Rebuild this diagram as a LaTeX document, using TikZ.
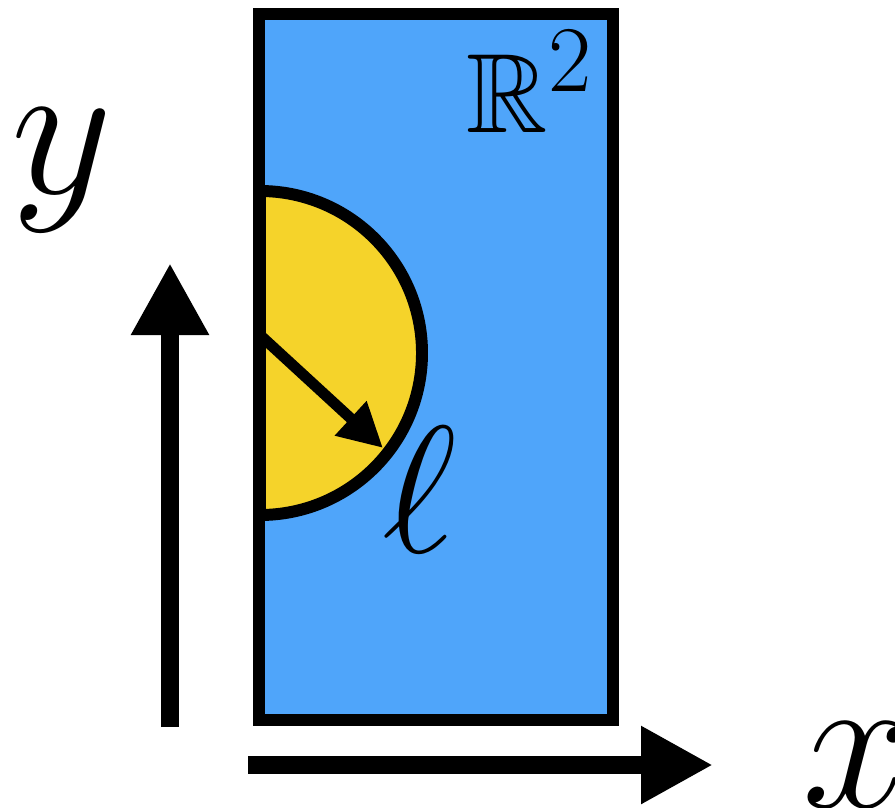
\documentclass[tikz,border=0pt]{standalone}
\usepackage{amsmath,amssymb}
\usetikzlibrary{arrows.meta}
\definecolor{planeblue}{RGB}{79,165,250}
\definecolor{discyellow}{RGB}{245,211,42}

\begin{document}
\begin{tikzpicture}[axis/.style={line width=5.1pt, -{Triangle[length=7.2mm, width=7.3mm]}}, biglabel/.style={font=\Huge, scale=2.25}]
\useasboundingbox (0,0) rectangle (8.95,8.07);
% half-plane and half-disc
\fill[planeblue] (2.59,0.87) rectangle (6.13,7.93);
\filldraw[fill=discyellow, line width=3.4pt] (2.60,6.16) arc[start angle=90, end angle=-90, radius=1.62] -- cycle;
\draw[line width=3.4pt] (2.59,0.87) rectangle (6.13,7.93);
\coordinate (rstart) at (2.60,4.72);
\coordinate (rtip) at (3.83,3.59);
\draw[line width=3.1pt, -{Triangle[length=4.4mm, width=4.4mm]}] (rstart) -- (rtip);
\node[biglabel, scale=0.92] (ell) at (4.20,3.17) {$\ell$};
\node[font=\Huge, scale=1.29] (plane) at (5.30,7.25) {$\mathbb{R}^2$};
% axes
\coordinate (yfoot) at (1.70,0.80);
\coordinate (ytip) at (1.70,5.44);
\coordinate (xfoot) at (2.48,0.42);
\coordinate (xtip) at (7.13,0.42);
\draw[axis] (yfoot) -- (ytip);
\draw[axis] (xfoot) -- (xtip);
\node[biglabel] (ylab) at (0.62,6.37) {$y$};
\node[biglabel] (xlab) at (8.57,0.42) {$x$};
\end{tikzpicture}
\end{document}
